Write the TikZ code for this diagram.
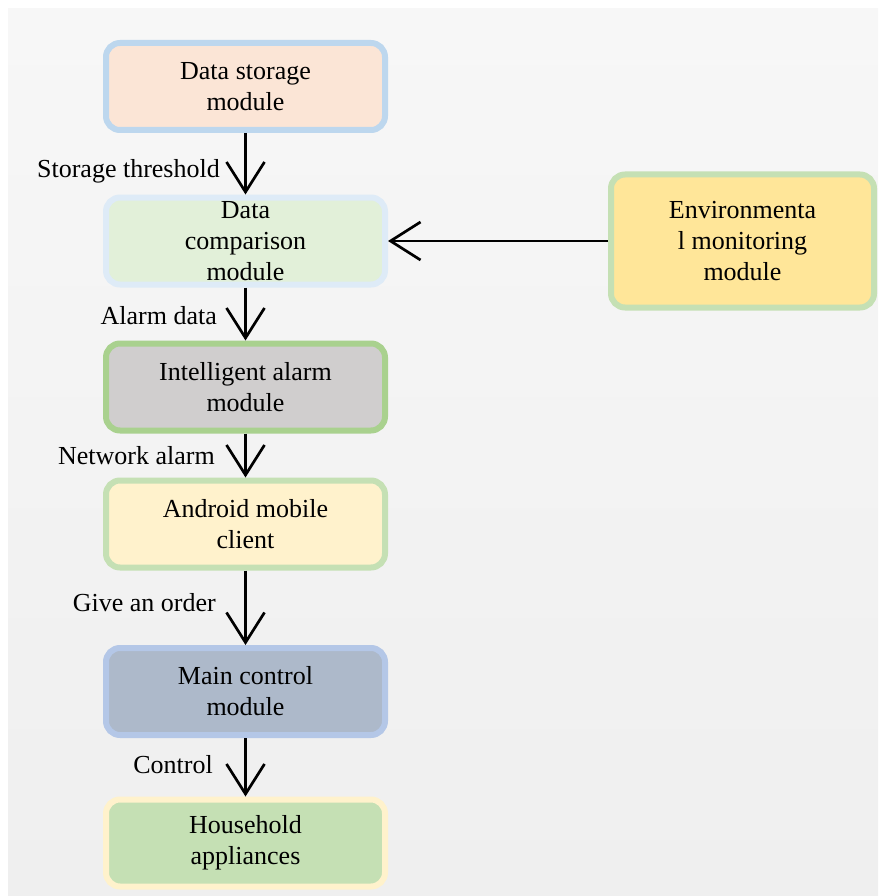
\documentclass[tikz,border=0pt]{standalone}
\usepackage{fontspec}
\setmainfont{Liberation Serif}
\usetikzlibrary{arrows.meta}
\definecolor{bgtop}{HTML}{F7F7F7}
\definecolor{bgbot}{HTML}{EFEFEF}
\definecolor{fStore}{HTML}{FBE5D6}\definecolor{bStore}{HTML}{BDD7EE}
\definecolor{fComp}{HTML}{E2F0D9}\definecolor{bComp}{HTML}{DEEBF7}
\definecolor{fAlarm}{HTML}{D0CECE}\definecolor{bAlarm}{HTML}{A9D18E}
\definecolor{fAndr}{HTML}{FFF2CC}\definecolor{bAndr}{HTML}{C5E0B4}
\definecolor{fMain}{HTML}{ADB9CA}\definecolor{bMain}{HTML}{B4C7E7}
\definecolor{fHouse}{HTML}{C5E0B4}\definecolor{bHouse}{HTML}{FFF2CC}
\definecolor{fEnv}{HTML}{FFE699}\definecolor{bEnv}{HTML}{C5E0B4}
\begin{document}
\begin{tikzpicture}[x=1pt,y=-1pt,
  box/.style={draw, line width=6pt, rounded corners=14pt, minimum width=279pt,
    minimum height=87pt, align=center, inner sep=0pt,
    font=\fontsize{26}{31}\selectfont},
  lbl/.style={anchor=base east, inner sep=0pt, font=\fontsize{26}{31}\selectfont},
  conn/.style={line width=2.7pt, -{Straight Barb[length=30pt,width=38pt,line width=2.7pt]}}]
\useasboundingbox (0,0) rectangle (878,896);
\shade[top color=bgtop, bottom color=bgbot] (8,9) rectangle (878,895);

\node[box, fill=fStore, draw=bStore] (store) at (245.5,86.5) {Data storage\\module};
\node[box, fill=fComp, draw=bComp] (comp) at (245.5,241) {Data\\comparison\\module};
\node[box, fill=fAlarm, draw=bAlarm] (alarm) at (245.5,387) {Intelligent alarm\\module};
\node[box, fill=fAndr, draw=bAndr] (andr) at (245.5,524) {Android mobile\\client};
\node[box, fill=fMain, draw=bMain] (main) at (245.5,691.5) {Main control\\module};
\node[box, fill=fHouse, draw=bHouse] (house) at (245.5,843) {Household\\appliances};
\node[box, fill=fEnv, draw=bEnv, minimum width=263pt, minimum height=133pt] (env) at (742.5,241) {Environmenta\\l monitoring\\module};

\draw[conn] (store) -- (comp);
\draw[conn] (comp) -- (alarm);
\draw[conn] (alarm) -- (andr);
\draw[conn] (andr) -- (main);
\draw[conn] (main) -- (house);
\draw[conn] (env.west) -- (comp.east);

\node[lbl] (l1) at (220,178) {Storage threshold};
\node[lbl] (l2) at (217,324) {Alarm data};
\node[lbl] (l3) at (215,464) {Network alarm};
\node[lbl] (l4) at (216,611) {Give an order};
\node[lbl] (l5) at (213,773) {Control};
\end{tikzpicture}
\end{document}
